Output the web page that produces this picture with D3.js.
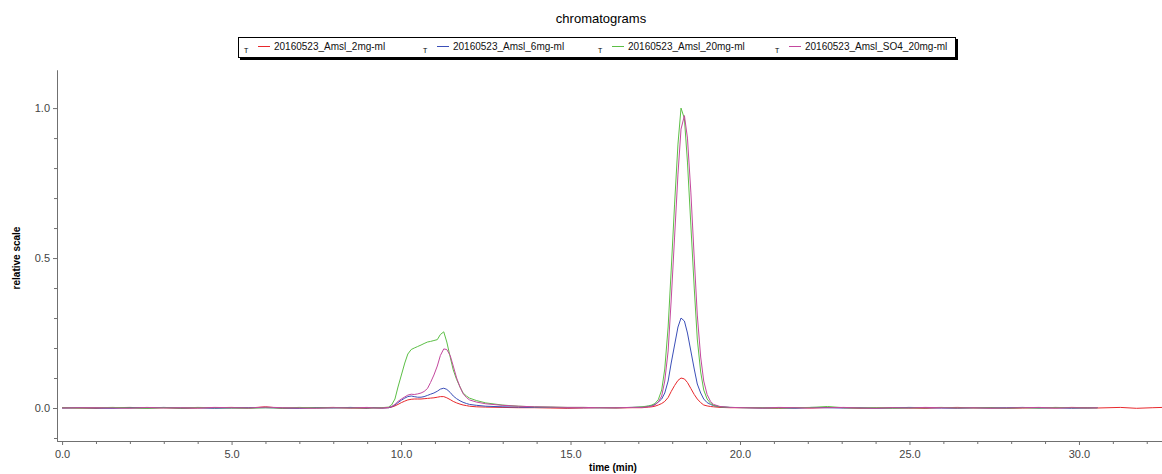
<!DOCTYPE html>
<html>
<head>
<meta charset="utf-8">
<script src="https://cdn.jsdelivr.net/npm/d3@7/dist/d3.min.js"></script>
<style>
  body { margin:0; background:#fff; }
  text { font-family: "Liberation Sans", Arial, sans-serif; }
</style>
</head>
<body>
<div id="chart"></div>
<script>
var svgW = 1162,
    svgH = 474;

// retention time grid (min)
var times = [
  0.0,0.5,1.0,1.5,2.0,2.5,3.0,3.5,4.0,4.5,5.0,5.5,6.0,6.5,7.0,7.5,8.0,8.5,9.0,9.2,
  9.43,9.63,9.72,9.82,9.91,10.01,10.11,10.20,10.30,10.39,10.49,10.59,10.68,10.78,10.87,10.97,11.07,11.16,11.26,11.35,11.45,
  11.54,11.64,11.74,11.83,11.93,12.02,12.22,
  12.50,12.98,13.46,13.94,14.42,14.90,15.38,15.86,16.34,16.82,
  17.11,17.30,17.40,17.49,17.59,17.69,17.78,17.88,17.97,18.07,18.17,18.26,18.36,18.45,18.55,18.65,18.74,18.84,18.93,19.03,19.13,19.22,
  19.41,19.70,
  20.18,20.66,21.14,21.62,22.10,22.58,23.06,23.54,24.02,24.50,24.98,25.46,25.94,26.42,26.90,27.38,27.86,28.34,28.82,29.30,29.78,30.26,
  30.55,31.22,31.70,32.18,32.46
];

var red = [
  0.001,0,-0.001,0.001,0.002,0,0.001,-0.001,0,0.001,0.002,0,0.004,-0.001,0,0.001,0.002,0,-0.001,0.001,
  0,0.001,0.003,0.007,0.012,0.018,0.023,0.027,0.029,0.030,0.030,0.030,0.031,0.032,0.033,0.034,0.036,0.038,0.038,0.034,0.028,
  0.022,0.017,0.013,0.010,0.008,0.006,0.004,
  0.003,0.002,0.001,0.001,0,-0.001,0,0.001,0,0.001,
  0.001,0.003,0.004,0.006,0.010,0.015,0.022,0.035,0.055,0.075,0.092,0.100,0.097,0.085,0.065,0.045,0.030,0.018,0.010,0.007,0.005,0.004,
  0.002,0.001,
  0.001,0,-0.001,0.001,0,0.002,0.001,-0.001,0,0.001,0,-0.001,0.001,0.002,0,0.001,-0.001,0,0.001,0,0.002,0.001,
  0,0.002,-0.001,0.001,0.002
];

var blue = [
  0,0.001,0,-0.001,0.001,0,0.002,0,0.001,-0.001,0,0.001,0.001,0,-0.001,0.001,0,0.002,0,0.001,
  0,0.001,0.004,0.010,0.018,0.026,0.033,0.038,0.040,0.038,0.036,0.036,0.038,0.042,0.046,0.050,0.056,0.063,0.066,0.062,0.052,
  0.040,0.031,0.024,0.019,0.015,0.012,0.009,
  0.006,0.004,0.003,0.002,0.002,0.001,0.001,0.001,0.001,0.002,
  0.003,0.006,0.008,0.012,0.020,0.030,0.050,0.090,0.150,0.210,0.270,0.300,0.290,0.250,0.190,0.130,0.080,0.050,0.030,0.018,0.012,0.008,
  0.004,0.002,
  0.001,0,0.001,-0.001,0.002,0.001,0,0.001,-0.001,0,0.002,0.001,0,-0.001,0.001,0,0.001,0.002,0,0.001,-0.001,0,
  0.001,null,null,null,null
];

var green = [
  0.001,0,0.001,0.002,0,-0.001,0.001,0,0.002,0.001,0,-0.001,0.001,0,0.002,0,0.001,0,0.001,0,
  0.001,0.003,0.010,0.030,0.070,0.110,0.150,0.180,0.195,0.200,0.205,0.210,0.215,0.220,0.222,0.225,0.228,0.245,0.254,0.220,0.170,
  0.127,0.095,0.070,0.050,0.040,0.033,0.025,
  0.017,0.010,0.006,0.004,0.003,0.002,0.002,0.001,0.001,0.002,
  0.004,0.007,0.010,0.015,0.028,0.060,0.130,0.270,0.460,0.680,0.880,1.000,0.965,0.820,0.610,0.400,0.230,0.120,0.060,0.030,0.016,0.009,
  0.004,0.002,
  0.001,0.001,0,0.001,0.002,0.005,0.001,0,0.001,-0.001,0,0.001,0.002,0,0.001,0,-0.001,0.001,0,0.002,0.001,0,
  0.001,null,null,null,null
];

var magenta = [
  0,0.001,0.001,0,-0.001,0.002,0,0.001,0,0.002,0.001,0,0.003,0.001,0,-0.001,0.001,0,0.002,0,
  0,0.002,0.005,0.012,0.022,0.030,0.037,0.043,0.046,0.045,0.047,0.050,0.055,0.065,0.085,0.110,0.140,0.175,0.197,0.195,0.175,
  0.140,0.100,0.070,0.048,0.035,0.027,0.020,
  0.014,0.009,0.006,0.004,0.003,0.002,0.002,0.001,0.001,0.002,
  0.002,0.004,0.006,0.010,0.020,0.040,0.090,0.190,0.360,0.570,0.780,0.930,0.975,0.900,0.720,0.500,0.310,0.170,0.090,0.045,0.022,0.012,
  0.005,0.002,
  0.001,0,0.002,0.001,0,0.001,0.002,0,-0.001,0.001,0,0.002,0.001,0,0.001,-0.001,0,0.001,0.002,0,0.001,0,
  0.001,null,null,null,null
];

var seriesNames = ['20160523_Amsl_2mg-ml','20160523_Amsl_6mg-ml','20160523_Amsl_20mg-ml','20160523_Amsl_SO4_20mg-ml'];
var seriesColors = ['#e8282c','#3b4fb8','#5cbf46','#c4489e'];
var seriesValues = [red, blue, green, magenta];

var xTicks = [0,5,10,15,20,25,30];
var yTicks = [0,0.5,1.0];

var svg = d3.select('#chart').append('svg')
  .attr('width', svgW)
  .attr('height', svgH);

var x = d3.scaleLinear().domain([-0.15, 32.45]).range([57, 1162]);
var y = d3.scaleLinear().domain([-0.11, 1.127]).range([441, 70]);

// title
svg.append('text')
  .attr('x', 601).attr('y', 23)
  .attr('text-anchor','middle')
  .style('font-size','13px')
  .text('chromatograms');

// legend box with shadow
var lg = svg.append('g').attr('class','legend');
lg.append('rect').attr('x',240).attr('y',39).attr('width',718).attr('height',21).attr('fill','#000');
lg.append('rect').attr('x',238.5).attr('y',37.5).attr('width',717).attr('height',20)
  .attr('fill','#fff').attr('stroke','#000').attr('stroke-width',1);

var legendX = [244, 423, 598, 775];
seriesNames.forEach(function(name, i){
  var g = lg.append('g').attr('transform','translate('+legendX[i]+',0)');
  g.append('text').attr('x',0).attr('y',53).style('font-size','7px').text('T');
  g.append('line').attr('x1',14).attr('x2',26).attr('y1',46.5).attr('y2',46.5)
    .attr('stroke',seriesColors[i]).attr('stroke-width',1);
  g.append('text').attr('x',30).attr('y',50).style('font-size','10px').attr('fill','#111').text(name);
});

// axes
var axisColor = '#707070';
var xAxis = svg.append('g').attr('transform','translate(0,441)')
  .call(d3.axisBottom(x).tickValues(xTicks).tickFormat(d3.format('.1f')).tickSize(4).tickSizeOuter(0));
var xMinor = svg.append('g').attr('transform','translate(0,441)')
  .call(d3.axisBottom(x).tickValues(d3.range(0,33,1).filter(function(d){return d%5!==0;})).tickFormat('').tickSize(3).tickSizeOuter(0));
var yAxis = svg.append('g').attr('transform','translate(57,0)')
  .call(d3.axisLeft(y).tickValues(yTicks).tickFormat(d3.format('.1f')).tickSize(4).tickSizeOuter(0));
var yMinor = svg.append('g').attr('transform','translate(57,0)')
  .call(d3.axisLeft(y).tickValues([-0.1,0.1,0.2,0.3,0.4,0.6,0.7,0.8,0.9]).tickFormat('').tickSize(3).tickSizeOuter(0));

[xAxis, xMinor, yAxis, yMinor].forEach(function(a){
  a.select('.domain').attr('stroke', axisColor);
  a.selectAll('.tick line').attr('stroke', axisColor);
  a.selectAll('.tick text').attr('fill','#444').style('font-size','11px').style('font-family','"Liberation Sans", Arial, sans-serif');
});
xAxis.selectAll('.tick text').attr('dy','0.9em');

svg.append('text')
  .attr('x', 613).attr('y', 471)
  .attr('text-anchor','middle')
  .style('font-size','10px').style('font-weight','bold')
  .text('time (min)');

svg.append('text')
  .attr('transform','translate(20,258) rotate(-90)')
  .attr('text-anchor','middle')
  .style('font-size','10px').style('font-weight','bold')
  .text('relative scale');

// traces
var line = d3.line()
  .defined(function(d){ return d[1] !== null; })
  .x(function(d){ return x(d[0]); })
  .y(function(d){ return y(d[1]); });

svg.append('g').attr('class','traces')
  .selectAll('path')
  .data(seriesValues)
  .enter()
  .append('path')
    .attr('d', function(vals){ return line(times.map(function(t,i){ return [t, vals[i]]; })); })
    .attr('fill','none')
    .attr('stroke', function(d,i){ return seriesColors[i]; })
    .attr('stroke-width', 1);
</script>
</body>
</html>
